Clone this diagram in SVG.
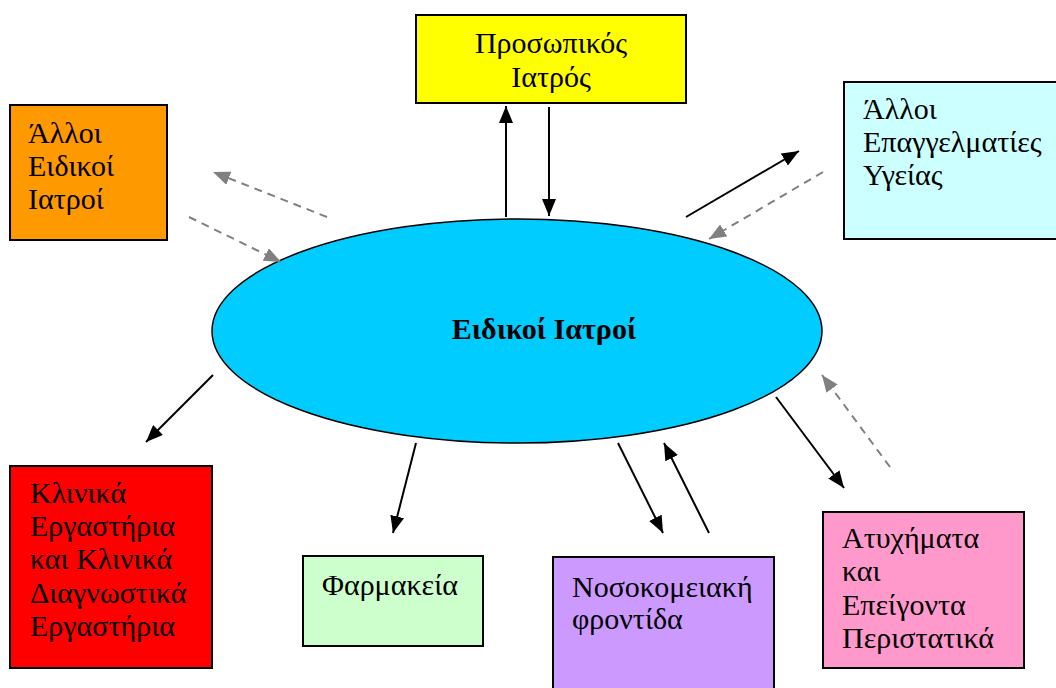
<svg xmlns="http://www.w3.org/2000/svg" width="1056" height="688" viewBox="0 0 1056 688">
<defs>
<style>
.box{stroke:#000;stroke-width:2}
.t{font-family:"Liberation Serif","Times New Roman",serif;font-size:30px;fill:#000}
.c{text-anchor:middle}
.solid{stroke:#000;stroke-width:2;fill:none}
.dash{stroke:#808080;stroke-width:2;stroke-dasharray:8 6;fill:none}
</style>
<marker id="ab" markerUnits="userSpaceOnUse" markerWidth="18" markerHeight="14" refX="17" refY="7" orient="auto"><path d="M0,0 L17,7 L0,14 Z" fill="#000"/></marker>
<marker id="ag" markerUnits="userSpaceOnUse" markerWidth="18" markerHeight="14" refX="17" refY="7" orient="auto"><path d="M0,0 L17,7 L0,14 Z" fill="#808080"/></marker>
</defs>
<rect width="1056" height="688" fill="#fff"/>
<g id="center">
<ellipse cx="517" cy="331" rx="305" ry="112" fill="#00CCFF" stroke="#000" stroke-width="1.5"/>
<text class="t c" x="544" y="339" font-weight="bold">Ειδικοί Ιατροί</text>
</g>
<g id="personal">
<rect class="box" x="416" y="15" width="270" height="88" fill="#FFFF00"/>
<text class="t c" x="551" y="53">Προσωπικός</text>
<text class="t c" x="551" y="87">Ιατρός</text>
</g>
<g id="other-specialists">
<rect class="box" x="10" y="105" width="157" height="135" fill="#FF9900"/>
<text class="t" x="28" y="143">Άλλοι</text>
<text class="t" x="28" y="176">Ειδικοί</text>
<text class="t" x="28" y="209">Ιατροί</text>
</g>
<g id="other-professionals">
<rect class="box" x="844" y="82" width="220" height="157" fill="#CCFFFF"/>
<text class="t" x="863" y="119">Άλλοι</text>
<text class="t" x="863" y="152">Επαγγελματίες</text>
<text class="t" x="863" y="185">Υγείας</text>
</g>
<g id="labs">
<rect class="box" x="10" y="466" width="202" height="202" fill="#FF0000"/>
<text class="t" x="30" y="503">Κλινικά</text>
<text class="t" x="30" y="536">Εργαστήρια</text>
<text class="t" x="30" y="569">και Κλινικά</text>
<text class="t" x="30" y="603">Διαγνωστικά</text>
<text class="t" x="30" y="636">Εργαστήρια</text>
</g>
<g id="pharmacies">
<rect class="box" x="303" y="556" width="180" height="90" fill="#CCFFCC"/>
<text class="t" x="322" y="595">Φαρμακεία</text>
</g>
<g id="hospital">
<rect class="box" x="553" y="557" width="221" height="140" fill="#CC99FF"/>
<text class="t" x="572" y="597">Νοσοκομειακή</text>
<text class="t" x="572" y="629">φροντίδα</text>
</g>
<g id="emergencies">
<rect class="box" x="823" y="512" width="201" height="156" fill="#FF99CC"/>
<text class="t" x="842" y="548">Ατυχήματα</text>
<text class="t" x="842" y="581">και</text>
<text class="t" x="842" y="615">Επείγοντα</text>
<text class="t" x="842" y="648">Περιστατικά</text>
</g>
<g id="connectors">
<line class="solid" x1="506" y1="217" x2="506" y2="106" marker-end="url(#ab)"/>
<line class="solid" x1="549" y1="107" x2="549" y2="216" marker-end="url(#ab)"/>
<line class="dash" x1="327" y1="217" x2="213" y2="172" marker-end="url(#ag)"/>
<line class="dash" x1="189" y1="217" x2="281" y2="262" marker-end="url(#ag)"/>
<line class="solid" x1="686" y1="217" x2="799" y2="151" marker-end="url(#ab)"/>
<line class="dash" x1="823" y1="172" x2="709" y2="239" marker-end="url(#ag)"/>
<line class="solid" x1="213" y1="375" x2="146" y2="442" marker-end="url(#ab)"/>
<line class="solid" x1="416" y1="443" x2="393" y2="533" marker-end="url(#ab)"/>
<line class="solid" x1="618" y1="443" x2="663" y2="533" marker-end="url(#ab)"/>
<line class="solid" x1="709" y1="533" x2="664" y2="443" marker-end="url(#ab)"/>
<line class="solid" x1="776" y1="397" x2="844" y2="488" marker-end="url(#ab)"/>
<line class="dash" x1="890" y1="467" x2="822" y2="375" marker-end="url(#ag)"/>
</g>
</svg>
